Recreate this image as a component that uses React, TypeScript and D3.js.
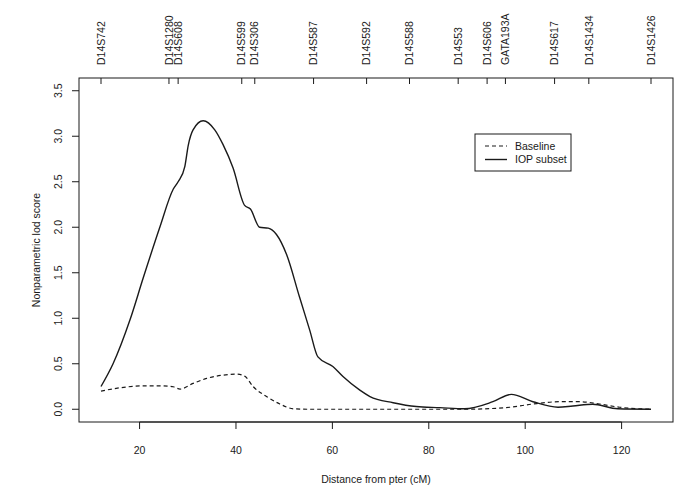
import React from "react";
import * as d3 from "d3";

const markerNames = ["D14S742","D14S1280","D14S608","D14S599","D14S306","D14S587","D14S592","D14S588","D14S53","D14S606","GATA193A","D14S617","D14S1434","D14S1426"];
const markerPos = [12.0, 26.1, 28.0, 41.2, 43.9, 56.1, 67.1, 76.0, 86.1, 92.1, 95.9, 106.1, 113.2, 126.1];

const iopX = [12.0,14.5,18.0,20.8,24.2,27.0,28.0,29.4,30.1,31.1,33.2,35.6,37.3,39.4,41.8,43.0,44.9,46.7,48.4,50.5,53.2,55.3,57.0,60.1,62.2,65.7,67.8,72.6,77.4,82.3,87.4,93.3,97.1,101.6,106.8,109.9,114.0,119.2,126.1];
const iopY = [0.25,0.50,0.98,1.45,2.00,2.42,2.50,2.67,2.90,3.07,3.17,3.07,2.91,2.65,2.24,2.20,2.00,1.99,1.92,1.70,1.23,0.87,0.575,0.47,0.36,0.21,0.14,0.072,0.03,0.018,0.005,0.083,0.164,0.083,0.022,0.036,0.055,0.005,0.0];

const baseX = [12.0,17.3,20.8,24.2,27.0,28.4,31.1,33.9,37.3,40.1,41.8,43.6,46.4,49.1,51.9,55.0,87.4,96.8,101.6,107.3,111.4,115.4,119.6,126.1];
const baseY = [0.20,0.245,0.258,0.258,0.247,0.222,0.284,0.339,0.375,0.386,0.364,0.247,0.138,0.058,0.005,0,0,0.022,0.058,0.083,0.083,0.058,0.022,0];

const xTicks = [20, 40, 60, 80, 100, 120];
const yTicks = [0, 0.5, 1, 1.5, 2, 2.5, 3, 3.5];

const W = 685, H = 497;
const L = 79, R = 673, T = 78, B = 422;
const FONT = "'Liberation Sans', Arial, sans-serif";
const FS = 10.5;
const INK = "#1a1a1a";

export default function App() {
  const xMin = 12.0, xMax = 126.1;
  const xe = (xMax - xMin) * 0.04;
  const x = d3.scaleLinear().domain([xMin - xe, xMax + xe]).range([L, R]);
  const ye = 3.5 * 0.04;
  const y = d3.scaleLinear().domain([0 - ye, 3.5 + ye]).range([B, T]);

  const line = d3.line<[number, number]>()
    .x(d => x(d[0]))
    .y(d => y(d[1]))
    .curve(d3.curveMonotoneX);

  const iopPath = line(iopX.map((v, i) => [v, iopY[i]] as [number, number])) || "";
  const basePath = line(baseX.map((v, i) => [v, baseY[i]] as [number, number])) || "";

  return (
    <div style={{ position: "fixed", left: 0, top: 0 }}>
      <svg width={W} height={H} style={{ display: "block", background: "#fff" }} fontFamily={FONT}>
        <rect x={0} y={0} width={W} height={H} fill="#fff" />
        {/* box */}
        <rect x={L} y={T} width={R - L} height={B - T} fill="none" stroke={INK} strokeWidth={1} />

        {/* bottom axis */}
        <line x1={x(xTicks[0])} x2={x(xTicks[xTicks.length - 1])} y1={B} y2={B} stroke={INK} />
        {xTicks.map(t => (
          <g key={"xt" + t}>
            <line x1={x(t)} x2={x(t)} y1={B} y2={B + 7} stroke={INK} />
            <text x={x(t)} y={B + 32} textAnchor="middle" fontSize={FS} fill={INK}>{t}</text>
          </g>
        ))}
        <text x={(L + R) / 2} y={483} textAnchor="middle" fontSize={FS} fill={INK}>Distance from pter (cM)</text>

        {/* left axis */}
        {yTicks.map(t => (
          <g key={"yt" + t}>
            <line x1={L - 7} x2={L} y1={y(t)} y2={y(t)} stroke={INK} />
            <text transform={`translate(${L - 17},${y(t)}) rotate(-90)`} textAnchor="middle" fontSize={FS} fill={INK}>{t.toFixed(1)}</text>
          </g>
        ))}
        <text transform={`translate(${40},${(T + B) / 2}) rotate(-90)`} textAnchor="middle" fontSize={FS} fill={INK}>Nonparametric lod score</text>

        {/* top markers */}
        {markerNames.map((n, i) => (
          <g key={"m" + n}>
            <line x1={x(markerPos[i])} x2={x(markerPos[i])} y1={T} y2={T + 6} stroke={INK} />
            <text transform={`translate(${x(markerPos[i])},${65}) rotate(-90)`} dy="0.35em" textAnchor="start" fontSize={FS} fill={INK}>{n}</text>
          </g>
        ))}

        {/* curves */}
        <path d={basePath} fill="none" stroke={INK} strokeWidth={1.2} strokeDasharray="4,3" />
        <path d={iopPath} fill="none" stroke={INK} strokeWidth={1.4} />

        {/* legend */}
        <rect x={475} y={134} width={96} height={37} fill="#fff" stroke={INK} strokeWidth={1} />
        <line x1={485} x2={507} y1={146} y2={146} stroke={INK} strokeWidth={1.2} strokeDasharray="4,3" />
        <line x1={485} x2={507} y1={159.5} y2={159.5} stroke={INK} strokeWidth={1.4} />
        <text x={515} y={146} dy="0.35em" fontSize={FS} fill={INK}>Baseline</text>
        <text x={515} y={159.5} dy="0.35em" fontSize={FS} fill={INK}>IOP subset</text>
      </svg>
    </div>
  );
}
